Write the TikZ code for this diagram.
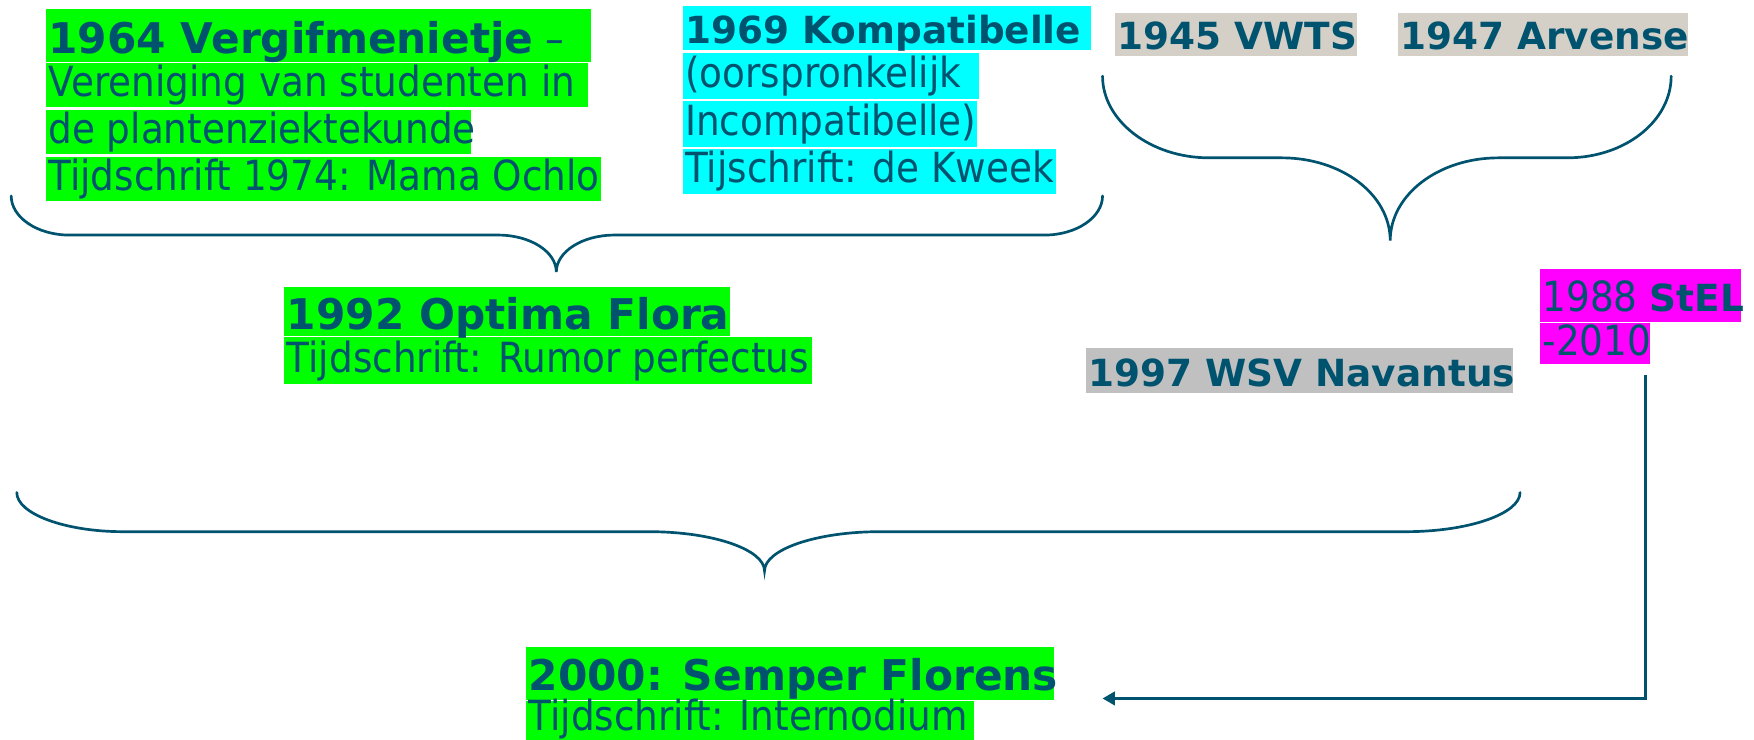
\documentclass[tikz,border=0pt]{standalone}
\usepackage{fontspec}
\setmainfont{DejaVu Sans}
\newfontfamily\condfont{DejaVu Sans}[FakeStretch=0.9]
\usetikzlibrary{arrows.meta}
\definecolor{ink}{HTML}{00536F}
\definecolor{hlgreen}{HTML}{00FF00}
\definecolor{hlcyan}{HTML}{00FFFF}
\definecolor{hlmag}{HTML}{FF00FF}
\definecolor{hlbeige}{HTML}{D4D0C8}
\definecolor{hlgrey}{HTML}{C0C0C0}
\newcommand{\txtreg}{\condfont\fontsize{37.1}{44}\selectfont\mdseries}
\newcommand{\txtbig}{\normalfont\fontsize{37.8}{45}\selectfont\bfseries}
\newcommand{\txtsb}{\normalfont\fontsize{33.4}{40}\selectfont\bfseries}
\begin{document}
\begin{tikzpicture}[x=1pt,y=-1pt,
  txt/.style={anchor=base west, inner sep=0pt, text=ink, font=\txtreg},
  bigttl/.style={txt, font=\txtbig},
  smallttl/.style={txt, font=\txtsb},
  brace/.style={draw=ink, line width=2.4pt, line cap=round},
  conn/.style={draw=ink, line width=2.4pt, -{Triangle[length=11pt,width=12pt]}}]
\useasboundingbox (0,0) rectangle (1567,661.1);
% highlight boxes
\fill[hlgreen] (41,8) rectangle (528,55);
\fill[hlgreen] (41,56) rectangle (525,96);
\fill[hlgreen] (41,98) rectangle (421,138);
\fill[hlgreen] (41,140) rectangle (537,180);
\fill[hlcyan] (610,5) rectangle (975,45);
\fill[hlcyan] (610,47) rectangle (875,88);
\fill[hlcyan] (610,90) rectangle (873,131);
\fill[hlcyan] (610,133) rectangle (943,173);
\fill[hlbeige] (996,12) rectangle (1212,50);
\fill[hlbeige] (1249,12) rectangle (1508,50);
\fill[hlgreen] (254,256) rectangle (652,300);
\fill[hlgreen] (254,301) rectangle (725,343);
\fill[hlgrey] (970,311) rectangle (1352,351);
\fill[hlmag] (1376,240) rectangle (1555,288);
\fill[hlmag] (1376,289) rectangle (1474,325);
\fill[hlgreen] (470,578) rectangle (942,625);
\fill[hlgreen] (470,626) rectangle (870,662);
% texts
\node[bigttl] (a1) at (43,48) {1964 Vergifmenietje{\txtreg\ –}};
\node[txt] (a2) at (43,86) {Vereniging van studenten in};
\node[txt] (a3) at (43,128) {de plantenziektekunde};
\node[txt] (a4) at (43,170) {Tijdschrift 1974: Mama Ochlo};
\node[smallttl] (b1) at (612,39) {1969 Kompatibelle};
\node[txt] (b2) at (612,78) {(oorspronkelijk};
\node[txt] (b3) at (612,121) {Incompatibelle)};
\node[txt] (b4) at (612,163) {Tijschrift: de Kweek};
\node[smallttl] (c1) at (998,44) {1945 VWTS};
\node[smallttl] (c2) at (1251,44) {1947 Arvense};
\node[bigttl] (d1) at (256,294) {1992 Optima Flora};
\node[txt] (d2) at (256,333) {Tijdschrift: Rumor perfectus};
\node[smallttl] (e1) at (972,345) {1997 WSV Navantus};
\node[txt] (f1) at (1378,278) {1988 {\txtsb StEL}};
\node[txt] (f2) at (1378,318) {-2010};
\node[bigttl] (g1) at (472,617) {2000: Semper Florens};
\node[txt] (g2) at (472,653) {Tijdschrift: Internodium};
% braces
\draw[brace] (10,175) .. controls +(0,19) and +(-29,0) .. (62,210) -- (445,210)
  .. controls +(29,0) and +(0,-18) .. (497,243)
  .. controls +(0,-18) and +(-29,0) .. (549,210) -- (933,210)
  .. controls +(29,0) and +(0,19) .. (985,175);
\draw[brace] (985,68) .. controls +(0,40) and +(-52,0) .. (1080,141) -- (1145,141)
  .. controls +(54,0) and +(0,-41) .. (1242,215)
  .. controls +(0,-41) and +(-54,0) .. (1339,141) -- (1400,141)
  .. controls +(52,0) and +(0,40) .. (1493,68);
\draw[brace] (15,440) .. controls +(0,19) and +(-52,0) .. (110,475) -- (580,475)
  .. controls +(57,0) and +(0,-19) .. (683,510)
  .. controls +(0,-19) and +(-57,0) .. (786,475) -- (1256,475)
  .. controls +(56,0) and +(0,19) .. (1358,440);
% connector
\coordinate (stelout) at (1470,335);
\coordinate (semperin) at (985,624);
\draw[conn] (stelout) |- (semperin);
\end{tikzpicture}
\end{document}
